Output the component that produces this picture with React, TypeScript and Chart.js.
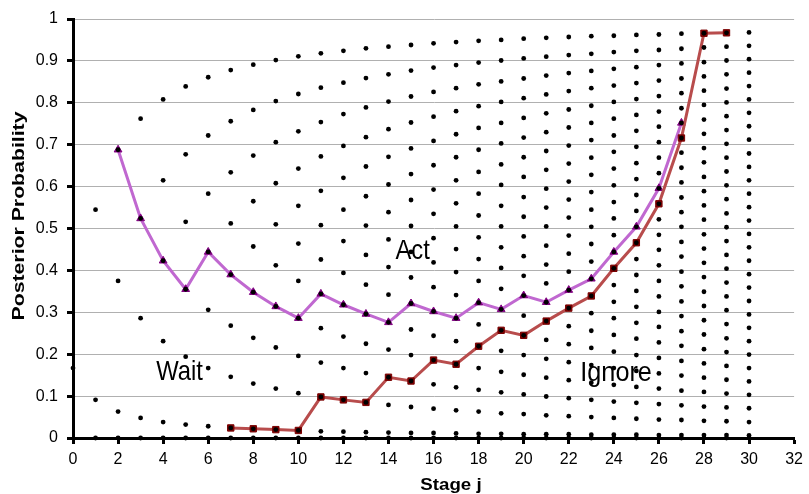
import { useEffect, useRef } from 'react';
import { Chart, registerables } from 'chart.js';

Chart.register(...registerables);

// Posterior probability values reachable at each stage j (index = stage)
const dotGridByStage: number[][] = [
  [0.167],
  [0, 0.091, 0.545],
  [0, 0.063, 0.375, 0.688],
  [0, 0.048, 0.286, 0.524, 0.762],
  [0, 0.038, 0.231, 0.423, 0.615, 0.808],
  [0, 0.032, 0.194, 0.355, 0.516, 0.677, 0.839],
  [0, 0.028, 0.167, 0.306, 0.444, 0.583, 0.722, 0.861],
  [0, 0.024, 0.146, 0.268, 0.390, 0.512, 0.634, 0.756, 0.878],
  [0, 0.022, 0.130, 0.239, 0.348, 0.457, 0.565, 0.674, 0.783, 0.891],
  [0, 0.020, 0.118, 0.216, 0.314, 0.412, 0.510, 0.608, 0.706, 0.804, 0.902],
  [0, 0.018, 0.107, 0.196, 0.286, 0.375, 0.464, 0.554, 0.643, 0.732, 0.821, 0.911],
  [0, 0.016, 0.098, 0.180, 0.262, 0.344, 0.426, 0.508, 0.590, 0.672, 0.754, 0.836, 0.918],
  [0, 0.015, 0.091, 0.167, 0.242, 0.318, 0.394, 0.470, 0.545, 0.621, 0.697, 0.773, 0.848, 0.924],
  [0, 0.014, 0.085, 0.155, 0.225, 0.296, 0.366, 0.437, 0.507, 0.577, 0.648, 0.718, 0.789, 0.859, 0.930],
  [0, 0.013, 0.079, 0.145, 0.211, 0.276, 0.342, 0.408, 0.474, 0.539, 0.605, 0.671, 0.737, 0.803, 0.868, 0.934],
  [0, 0.012, 0.074, 0.136, 0.198, 0.259, 0.321, 0.383, 0.444, 0.506, 0.568, 0.630, 0.691, 0.753, 0.815, 0.877, 0.938],
  [0, 0.012, 0.070, 0.128, 0.186, 0.244, 0.302, 0.360, 0.419, 0.477, 0.535, 0.593, 0.651, 0.709, 0.767, 0.826, 0.884, 0.942],
  [0, 0.011, 0.066, 0.121, 0.176, 0.231, 0.286, 0.341, 0.396, 0.451, 0.505, 0.560, 0.615, 0.670, 0.725, 0.780, 0.835, 0.890, 0.945],
  [0, 0.010, 0.063, 0.115, 0.167, 0.219, 0.271, 0.323, 0.375, 0.427, 0.479, 0.531, 0.583, 0.635, 0.688, 0.740, 0.792, 0.844, 0.896, 0.948],
  [0, 0.010, 0.059, 0.109, 0.158, 0.208, 0.257, 0.307, 0.356, 0.406, 0.455, 0.505, 0.554, 0.604, 0.653, 0.703, 0.752, 0.802, 0.851, 0.901, 0.950],
  [0, 0.009, 0.057, 0.104, 0.151, 0.198, 0.245, 0.292, 0.340, 0.387, 0.434, 0.481, 0.528, 0.575, 0.623, 0.670, 0.717, 0.764, 0.811, 0.858, 0.906, 0.953],
  [0, 0.009, 0.054, 0.099, 0.144, 0.189, 0.234, 0.279, 0.324, 0.369, 0.414, 0.459, 0.505, 0.550, 0.595, 0.640, 0.685, 0.730, 0.775, 0.820, 0.865, 0.910, 0.955],
  [0, 0.009, 0.052, 0.095, 0.138, 0.181, 0.224, 0.267, 0.310, 0.353, 0.397, 0.440, 0.483, 0.526, 0.569, 0.612, 0.655, 0.698, 0.741, 0.784, 0.828, 0.871, 0.914, 0.957],
  [0, 0.008, 0.050, 0.091, 0.132, 0.174, 0.215, 0.256, 0.298, 0.339, 0.380, 0.421, 0.463, 0.504, 0.545, 0.587, 0.628, 0.669, 0.711, 0.752, 0.793, 0.835, 0.876, 0.917, 0.959],
  [0, 0.008, 0.048, 0.087, 0.127, 0.167, 0.206, 0.246, 0.286, 0.325, 0.365, 0.405, 0.444, 0.484, 0.524, 0.563, 0.603, 0.643, 0.683, 0.722, 0.762, 0.802, 0.841, 0.881, 0.921, 0.960],
  [0, 0.008, 0.046, 0.084, 0.122, 0.160, 0.198, 0.237, 0.275, 0.313, 0.351, 0.389, 0.427, 0.466, 0.504, 0.542, 0.580, 0.618, 0.656, 0.695, 0.733, 0.771, 0.809, 0.847, 0.885, 0.924, 0.962],
  [0, 0.007, 0.044, 0.081, 0.118, 0.154, 0.191, 0.228, 0.265, 0.301, 0.338, 0.375, 0.412, 0.449, 0.485, 0.522, 0.559, 0.596, 0.632, 0.669, 0.706, 0.743, 0.779, 0.816, 0.853, 0.890, 0.926, 0.963],
  [0, 0.007, 0.043, 0.078, 0.113, 0.149, 0.184, 0.220, 0.255, 0.291, 0.326, 0.362, 0.397, 0.433, 0.468, 0.504, 0.539, 0.574, 0.610, 0.645, 0.681, 0.716, 0.752, 0.787, 0.823, 0.858, 0.894, 0.929, 0.965],
  [0, 0.007, 0.041, 0.075, 0.110, 0.144, 0.178, 0.212, 0.247, 0.281, 0.315, 0.349, 0.384, 0.418, 0.452, 0.486, 0.521, 0.555, 0.589, 0.623, 0.658, 0.692, 0.726, 0.760, 0.795, 0.829, 0.863, 0.897, 0.932, 0.966],
  [0, 0.007, 0.040, 0.073, 0.106, 0.139, 0.172, 0.205, 0.238, 0.272, 0.305, 0.338, 0.371, 0.404, 0.437, 0.470, 0.503, 0.536, 0.570, 0.603, 0.636, 0.669, 0.702, 0.735, 0.768, 0.801, 0.834, 0.868, 0.901, 0.934, 0.967],
  [0, 0.006, 0.038, 0.071, 0.103, 0.135, 0.167, 0.199, 0.231, 0.263, 0.295, 0.327, 0.359, 0.391, 0.423, 0.455, 0.487, 0.519, 0.551, 0.583, 0.615, 0.647, 0.679, 0.712, 0.744, 0.776, 0.808, 0.840, 0.872, 0.904, 0.936, 0.968],
];

// Act threshold (triangles)
const actStages = [2, 3, 4, 5, 6, 7, 8, 9, 10, 11, 12, 13, 14, 15, 16, 17, 18, 19, 20, 21, 22, 23, 24, 25, 26, 27];
const actValues = [0.688, 0.524, 0.423, 0.355, 0.444, 0.390, 0.348, 0.314, 0.286, 0.344, 0.318, 0.296, 0.276, 0.321, 0.302, 0.286, 0.323, 0.307, 0.340, 0.324, 0.353, 0.380, 0.444, 0.504, 0.596, 0.752];

// Ignore threshold (squares)
const ignoreStages = [7, 8, 9, 10, 11, 12, 13, 14, 15, 16, 17, 18, 19, 20, 21, 22, 23, 24, 25, 26, 27, 28, 29];
const ignoreValues = [0.024, 0.022, 0.020, 0.018, 0.098, 0.091, 0.085, 0.145, 0.136, 0.186, 0.176, 0.219, 0.257, 0.245, 0.279, 0.310, 0.339, 0.405, 0.466, 0.559, 0.716, 0.966, 0.967];

// Region labels
const regionLabels = ['Wait', 'Act', 'Ignore'];
const regionLabelX = [4.73, 15.07, 24.1];
const regionLabelY = [0.158, 0.446, 0.155];

const xTitle = 'Stage j';
const yTitle = 'Posterior Probability';

const FONT = '"Liberation Sans", Arial, sans-serif';

export default function App() {
  const ref = useRef<HTMLCanvasElement | null>(null);

  useEffect(() => {
    if (!ref.current) return;
    const dots: { x: number; y: number }[] = [];
    dotGridByStage.forEach((vals, stage) => vals.forEach((v) => dots.push({ x: stage, y: v })));
    const actPts = actStages.map((s, i) => ({ x: s, y: actValues[i] }));
    const ignPts = ignoreStages.map((s, i) => ({ x: s, y: ignoreValues[i] }));

    const textPlugin = {
      id: 'texts',
      afterDatasetsDraw(chart: any) {
        const ctx = chart.ctx;
        const xs = chart.scales.x;
        const ys = chart.scales.y;
        ctx.save();
        ctx.fillStyle = '#000';
        ctx.textAlign = 'center';
        ctx.textBaseline = 'middle';
        ctx.font = `28px ${FONT}`;
        regionLabels.forEach((t, i) => {
          const px = xs.getPixelForValue(regionLabelX[i]);
          const py = ys.getPixelForValue(regionLabelY[i]);
          ctx.save();
          ctx.translate(px, py);
          ctx.scale(i === 2 ? 0.9 : 0.85, 1);
          ctx.fillText(t, 0, 0);
          ctx.restore();
        });
        ctx.restore();
      },
      afterDraw(chart: any) {
        const ctx = chart.ctx;
        ctx.save();
        ctx.fillStyle = '#000';
        ctx.textAlign = 'center';
        ctx.textBaseline = 'middle';
        ctx.font = `bold 17px ${FONT}`;
        ctx.save();
        ctx.translate(19, 216);
        ctx.rotate(-Math.PI / 2);
        ctx.scale(1.25, 1);
        ctx.fillText(yTitle, 0, 0);
        ctx.restore();
        ctx.save();
        ctx.font = `bold 17px ${FONT}`;
        ctx.translate(451, 485);
        ctx.scale(1.1, 1);
        ctx.fillText(xTitle, 0, 0);
        ctx.restore();
        ctx.restore();
      },
    };

    const chart = new Chart(ref.current, {
      type: 'scatter',
      data: {
        datasets: [
          {
            label: 'grid',
            data: dots,
            pointRadius: 2.4,
            pointBackgroundColor: '#000',
            pointBorderWidth: 0,
            showLine: false,
            clip: false,
          } as any,
          {
            label: 'ignore',
            data: ignPts,
            showLine: true,
            borderColor: '#b84c4c',
            borderWidth: 3,
            pointStyle: 'rect',
            pointRadius: 4.5,
            pointBackgroundColor: '#7a0000',
            pointBorderColor: '#7a0000',
            pointBorderWidth: 1,
          },
          {
            label: 'act',
            data: actPts,
            showLine: true,
            borderColor: '#c068d0',
            borderWidth: 3,
            pointStyle: 'triangle',
            pointRadius: 4.5,
            pointBackgroundColor: '#800080',
            pointBorderColor: '#800080',
            pointBorderWidth: 1,
          },
        ],
      },
      options: {
        animation: false,
        responsive: false,
        events: [],
        layout: { padding: { left: 0, top: 19, right: 12, bottom: 0 } },
        plugins: { legend: { display: false }, tooltip: { enabled: false }, title: { display: false } },
        scales: {
          x: {
            type: 'linear',
            min: 0,
            max: 32,
            afterFit: (s: any) => { s.height = 56; },
            ticks: { stepSize: 2, color: '#000', font: { family: FONT, size: 16 }, padding: 6, maxRotation: 0 },
            grid: { drawOnChartArea: false, drawTicks: true, tickLength: 6, tickColor: '#000', tickWidth: 3 },
            border: { color: '#000', width: 3 },
          },
          y: {
            type: 'linear',
            min: 0,
            max: 1,
            afterFit: (s: any) => { s.width = 73; },
            ticks: {
              stepSize: 0.1,
              color: '#000',
              font: { family: FONT, size: 16 },
              padding: 9,
              callback: (v: any) => String(Math.round(Number(v) * 10) / 10),
            },
            grid: { color: '#b0b0b0', lineWidth: 1, tickLength: 6, tickColor: '#000', tickWidth: 3 },
            border: { color: '#000', width: 3 },
          },
        },
      },
      plugins: [textPlugin],
    });
    return () => chart.destroy();
  }, []);

  return (
    <div style={{ position: 'fixed', left: 0, top: 0, width: 809, height: 494, background: '#fff' }}>
      <canvas ref={ref} width={809} height={494} style={{ width: 809, height: 494 }} />
    </div>
  );
}
